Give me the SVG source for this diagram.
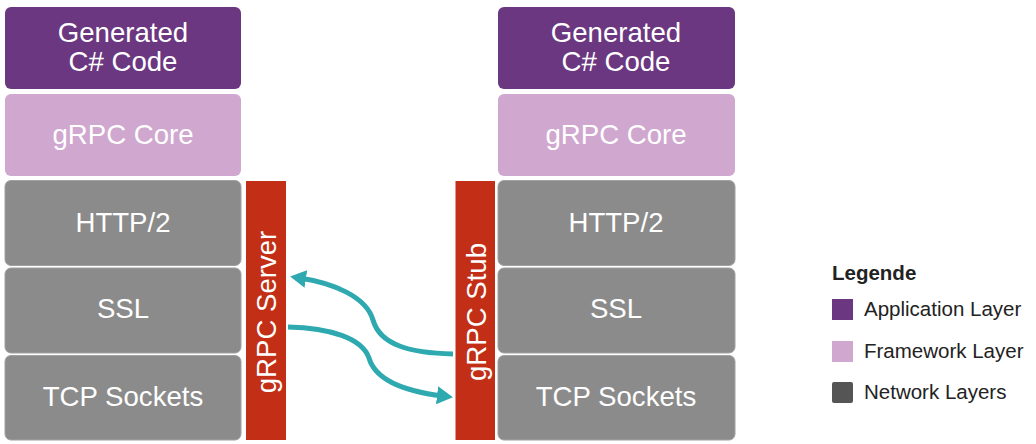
<svg xmlns="http://www.w3.org/2000/svg" width="1036" height="444" viewBox="0 0 1036 444">
<style>
.app{fill:#6a3780}
.fw{fill:#cfa7cf}
.net{fill:#8b8b8b;stroke:#a0a0a0;stroke-width:1}
.bar{fill:#c22f16}
.t{font-family:"Liberation Sans",Arial,sans-serif;font-size:27.6px;fill:#fff;text-anchor:middle}
.lg{font-family:"Liberation Sans",Arial,sans-serif;font-size:20.5px;fill:#222}
.conn{fill:none;stroke:#2ea9af;stroke-width:5;marker-end:url(#ah)}
</style>
<defs>
<marker id="ah" markerUnits="userSpaceOnUse" viewBox="0 0 16 18" markerWidth="16" markerHeight="18" refX="6" refY="9" orient="auto">
<path d="M0,0 L16,9 L0,18 z" fill="#2ea9af"/>
</marker>
</defs>
<rect width="1036" height="444" fill="#fff"/>
<g id="left-app"><rect class="app" x="5" y="7" width="236" height="82" rx="6"/><text class="t" x="123" y="42">Generated</text><text class="t" x="123" y="71">C# Code</text></g>
<g id="left-core"><rect class="fw" x="5" y="94" width="236" height="82" rx="6"/><text class="t" x="123" y="144">gRPC Core</text></g>
<g id="left-http"><rect class="net" x="5" y="180.5" width="236" height="85" rx="6"/><text class="t" x="123" y="232">HTTP/2</text></g>
<g id="left-ssl"><rect class="net" x="5" y="268" width="236" height="85" rx="6"/><text class="t" x="123" y="318">SSL</text></g>
<g id="left-tcp"><rect class="net" x="5" y="355.5" width="236" height="84.5" rx="6"/><text class="t" x="123" y="406">TCP Sockets</text></g>
<g id="right-app"><rect class="app" x="498" y="7" width="237" height="82" rx="6"/><text class="t" x="616" y="42">Generated</text><text class="t" x="616" y="71">C# Code</text></g>
<g id="right-core"><rect class="fw" x="498" y="94" width="237" height="82" rx="6"/><text class="t" x="616" y="144">gRPC Core</text></g>
<g id="right-http"><rect class="net" x="498" y="180.5" width="237" height="85" rx="6"/><text class="t" x="616" y="232">HTTP/2</text></g>
<g id="right-ssl"><rect class="net" x="498" y="268" width="237" height="85" rx="6"/><text class="t" x="616" y="318">SSL</text></g>
<g id="right-tcp"><rect class="net" x="498" y="355.5" width="237" height="84.5" rx="6"/><text class="t" x="616" y="406">TCP Sockets</text></g>
<g id="server"><rect class="bar" x="246" y="181" width="40" height="259"/><text class="t" transform="translate(276,312) rotate(-90)">gRPC Server</text></g>
<g id="stub"><rect class="bar" x="455.5" y="181" width="39.5" height="259"/><text class="t" transform="translate(485.5,312) rotate(-90)">gRPC Stub</text></g>
<g id="connectors">
<path class="conn" d="M453,354 C410,353 380,345 373,320 C366,296 332,283 300,278"/>
<path class="conn" d="M288,327 C330,328 362,338 369,358 C376,382 410,392 443,396"/>
</g>
<g id="legend">
<text x="832" y="280" font-family="Liberation Sans,Arial,sans-serif" font-size="20.5" font-weight="bold" fill="#222">Legende</text>
<rect class="app" x="832" y="299" width="21" height="21"/><text class="lg" x="864" y="316">Application Layer</text>
<rect class="fw" x="832" y="341" width="21" height="21"/><text class="lg" x="864" y="358">Framework Layer</text>
<rect x="832" y="382" width="21" height="21" rx="2" fill="#555"/><text class="lg" x="864" y="399">Network Layers</text>
</g>
</svg>
